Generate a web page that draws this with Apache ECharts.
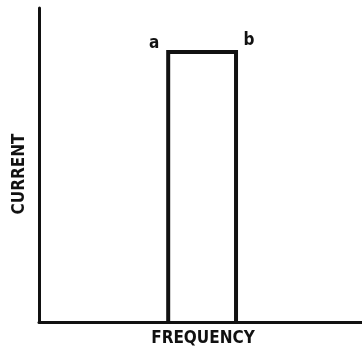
<!DOCTYPE html>
<html>
<head>
<meta charset="utf-8">
<style>
  html, body { margin: 0; padding: 0; background: #fff; }
  #chart { width: 362px; height: 351px; }
</style>
<script src="https://cdn.jsdelivr.net/npm/echarts@6/dist/echarts.min.js"></script>
</head>
<body>
<div id="chart"></div>
<script>
// Ideal band-pass response: flat current between frequencies a and b
const frequency = [40, 40, 61, 61];
const current = [0, 86, 86, 0];
const cornerLabels = ['', 'a', 'b', ''];
const axisTitles = { x: 'FREQUENCY', y: 'CURRENT' };

const ink = '#111';
const font = '"DejaVu Sans Condensed", "Liberation Sans Narrow", sans-serif';

const chart = echarts.init(document.getElementById('chart'), null, { renderer: 'canvas' });

const points = frequency.map((f, i) => {
  const item = { value: [f, current[i]] };
  if (cornerLabels[i]) {
    item.label = {
      show: true,
      formatter: cornerLabels[i],
      offset: i === 1 ? [-14, 5] : [13, 2]
    };
  }
  return item;
});

const bare = {
  type: 'value',
  min: 0,
  max: 100,
  axisLine: { lineStyle: { color: ink, width: 3 } },
  axisTick: { show: false },
  axisLabel: { show: false },
  splitLine: { show: false }
};

chart.setOption({
  animation: false,
  backgroundColor: '#fff',
  grid: { left: 39, right: 0, top: 8, bottom: 29 },
  xAxis: bare,
  yAxis: bare,
  graphic: [
    {
      type: 'text', x: 203, y: 339,
      style: { text: axisTitles.x, fill: ink, font: 'bold 17px ' + font, align: 'center', verticalAlign: 'middle' }
    },
    {
      type: 'text', x: 20, y: 174, rotation: Math.PI / 2,
      style: { text: axisTitles.y, fill: ink, font: 'bold 17px ' + font, align: 'center', verticalAlign: 'middle' }
    }
  ],
  series: [{
    type: 'line',
    data: points,
    symbol: 'circle',
    symbolSize: 0,
    showSymbol: true,
    lineStyle: { color: ink, width: 4, join: 'miter' },
    label: {
      color: ink,
      fontFamily: font,
      fontWeight: 'bold',
      fontSize: 17,
      position: 'top'
    }
  }]
});
</script>
</body>
</html>
